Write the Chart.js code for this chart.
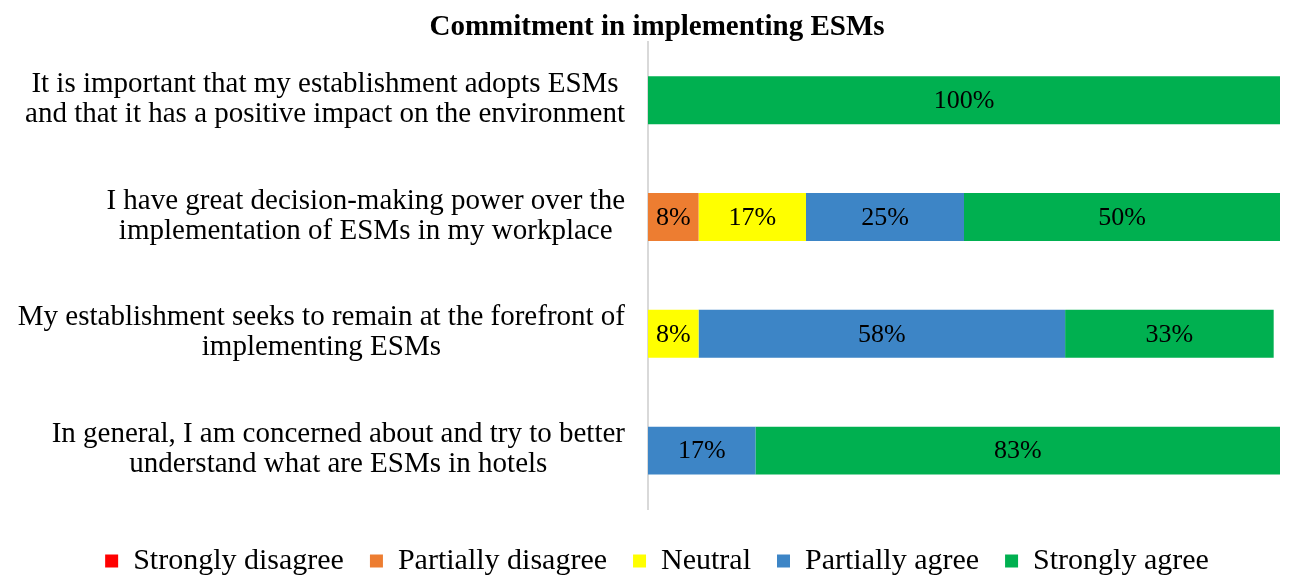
<!DOCTYPE html>
<html>
<head>
<meta charset="utf-8">
<script src="https://cdn.jsdelivr.net/npm/chart.js@4"></script>
<style>
  html, body { margin: 0; padding: 0; background: #fff; }
  #wrap { width: 1289px; height: 575px; }
</style>
</head>
<body>
<div id="wrap"><canvas id="chart"></canvas></div>
<script>
// Survey statements (multi-line labels)
const statements = [
  ['It is important that my establishment adopts ESMs', 'and that it has a positive impact on the environment'],
  ['I have great decision-making power over the', 'implementation of ESMs in my workplace'],
  ['My establishment seeks to remain at the forefront of', 'implementing ESMs'],
  ['In general, I am concerned about and try to better', 'understand what are ESMs in hotels']
];

// Share of answers per statement (%)
const stronglyDisagree = [0, 0, 0, 0];
const partiallyDisagree = [0, 8, 0, 0];
const neutral = [0, 17, 8, 0];
const partiallyAgree = [0, 25, 58, 17];
const stronglyAgree = [100, 50, 33, 83];

const serif = '"Liberation Serif", "Times New Roman", serif';

// Percent labels centred inside each segment
const segmentLabels = {
  id: 'segmentLabels',
  afterDatasetsDraw(chart) {
    const ctx = chart.ctx;
    ctx.save();
    ctx.font = '26px ' + serif;
    ctx.fillStyle = '#000';
    ctx.textAlign = 'center';
    ctx.textBaseline = 'middle';
    chart.data.datasets.forEach((ds, i) => {
      const meta = chart.getDatasetMeta(i);
      meta.data.forEach((bar, j) => {
        const v = ds.data[j];
        if (!v) return;
        ctx.fillText(v + '%', (bar.x + bar.base) / 2, bar.y + 1);
      });
    });
    ctx.restore();
  }
};

// Category labels: each block sits right against the axis, lines centred inside it
const statementLabels = {
  id: 'statementLabels',
  afterDraw(chart) {
    const ctx = chart.ctx;
    const yScale = chart.scales.y;
    const right = yScale.right - 23;
    const lineH = 30;
    ctx.save();
    ctx.font = '29px ' + serif;
    ctx.fillStyle = '#000';
    ctx.textAlign = 'center';
    ctx.textBaseline = 'middle';
    chart.data.labels.forEach((lines, i) => {
      const y = yScale.getPixelForValue(i);
      const w = Math.max(...lines.map(l => ctx.measureText(l).width));
      const cx = right - w / 2;
      const y0 = y - (lines.length - 1) * lineH / 2 - 1;
      lines.forEach((l, k) => ctx.fillText(l, cx, y0 + k * lineH));
    });
    ctx.restore();
  }
};

// Nudge title and legend a bit to the right, title and legend down
const shiftBlocks = {
  id: 'shiftBlocks',
  afterLayout(chart) {
    const dx = 17;
    chart.titleBlock.left += dx;
    chart.titleBlock.right += dx;
    chart.titleBlock.top += 3;
    chart.titleBlock.bottom += 3;
    chart.legend.left += dx;
    chart.legend.right += dx;
    chart.legend.top += 11;
    chart.legend.bottom += 11;
  }
};

new Chart(document.getElementById('chart'), {
  type: 'bar',
  data: {
    labels: statements,
    datasets: [
      { label: 'Strongly disagree', data: stronglyDisagree, backgroundColor: '#FF0000' },
      { label: 'Partially disagree', data: partiallyDisagree, backgroundColor: '#ED7D31' },
      { label: 'Neutral', data: neutral, backgroundColor: '#FFFF00' },
      { label: 'Partially agree', data: partiallyAgree, backgroundColor: '#3D85C6' },
      { label: 'Strongly agree', data: stronglyAgree, backgroundColor: '#00B050' }
    ]
  },
  options: {
    indexAxis: 'y',
    responsive: true,
    maintainAspectRatio: false,
    animation: false,
    layout: { padding: { left: 0, right: 9, top: 0, bottom: 0 } },
    datasets: {
      bar: { barPercentage: 0.41, categoryPercentage: 1, borderWidth: 0 }
    },
    scales: {
      x: {
        stacked: true,
        min: 0,
        max: 100,
        display: false
      },
      y: {
        stacked: true,
        grid: { display: false },
        border: { display: true, color: '#d9d9d9', width: 2 },
        ticks: { display: false },
        afterFit(scale) { scale.width = 648; }
      }
    },
    plugins: {
      title: {
        display: true,
        text: 'Commitment in implementing ESMs',
        color: '#000',
        font: { family: serif, size: 29, weight: 'bold' },
        padding: { top: 7, bottom: 0 }
      },
      legend: {
        position: 'bottom',
        labels: {
          color: '#000',
          boxWidth: 13,
          boxHeight: 13,
          padding: 26,
          font: { family: serif, size: 30, lineHeight: 1.2 }
        }
      },
      tooltip: { enabled: false }
    }
  },
  plugins: [segmentLabels, statementLabels, shiftBlocks]
});
</script>
</body>
</html>
